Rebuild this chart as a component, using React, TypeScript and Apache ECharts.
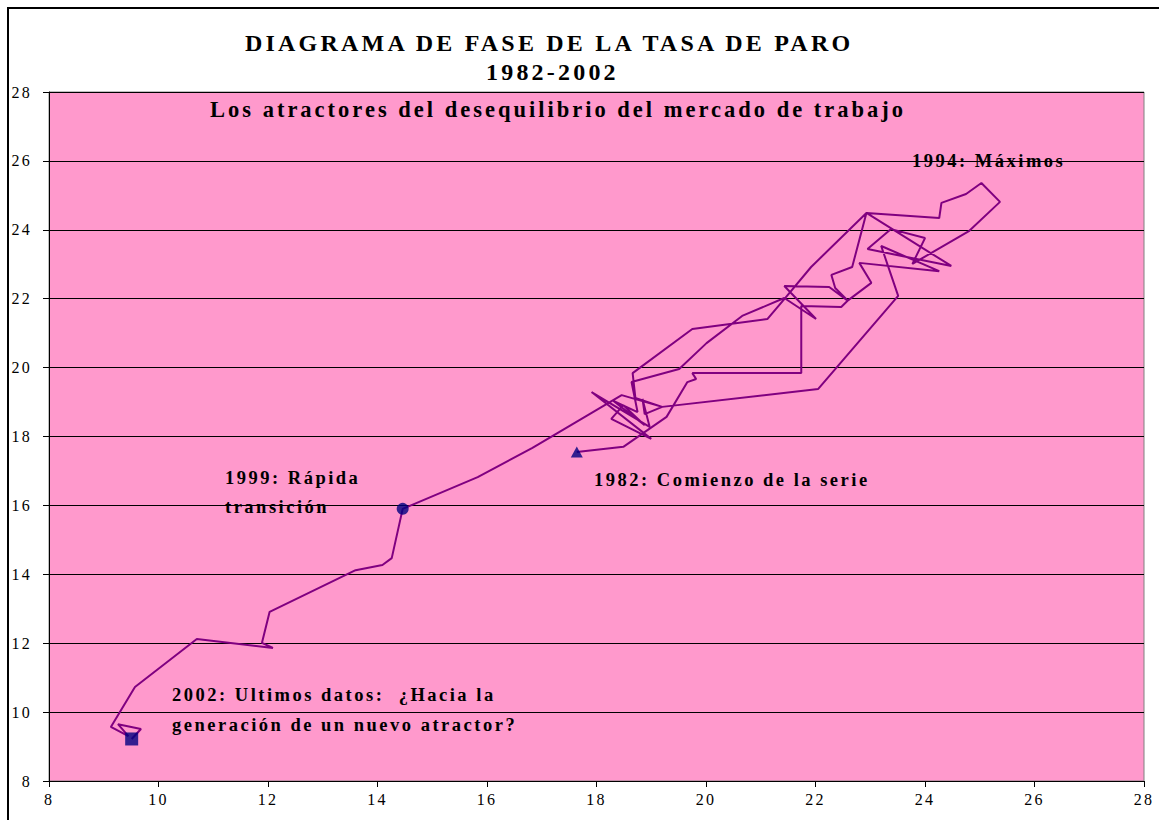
import React, { useEffect, useRef } from "react";
import * as echarts from "echarts";

// ---- Data ----
const xValues = [
  17.64, 18.49, 19.28, 19.66, 19.82, 19.75, 21.74, 21.74, 22.47, 22.6,
  23.02, 22.8, 24.26, 23.2, 23.51, 22.05, 19.2, 18.88, 18.84, 18.97,
  17.91, 19.0, 18.27, 18.49, 18.88, 18.31, 18.75, 18.64, 19.51, 20.01,
  20.66, 21.43, 22.01, 21.43, 22.25, 22.6, 22.36, 22.29, 22.67, 22.93,
  24.26, 24.3, 24.75, 25.03, 25.37, 24.81, 23.77, 24.0, 23.38, 22.95,
  24.48, 22.93, 21.92, 21.43, 21.12, 19.75, 18.66, 18.71, 19.2, 18.46,
  16.83, 15.83, 14.46, 14.26, 14.09, 13.6, 12.03, 11.89, 12.09, 10.7,
  9.57, 9.13, 9.45, 9.26, 9.68, 9.51,
];
const yValues = [
  17.55, 17.7, 18.57, 19.58, 19.67, 19.84, 19.84, 21.79, 21.76, 21.96,
  22.46, 23.04, 22.8, 23.53, 22.08, 19.38, 18.86, 18.65, 19.09, 18.28,
  19.29, 17.93, 18.51, 18.91, 18.33, 19.03, 18.71, 19.58, 19.96, 20.71,
  21.5, 22.02, 21.41, 22.37, 22.34, 21.93, 22.31, 22.69, 22.92, 24.49,
  24.34, 24.78, 25.04, 25.36, 24.81, 23.97, 23.01, 23.76, 24.02, 23.44,
  22.95, 24.49, 22.92, 21.99, 21.41, 21.12, 19.84, 19.12, 18.86, 19.2,
  17.67, 16.82, 15.9, 14.47, 14.27, 14.12, 12.91, 12.01, 11.86, 12.12,
  10.73, 9.57, 9.3, 9.65, 9.51, 9.22,
];
// indices of highlighted points: 1982 start, 1999 transition, 2002 last data
const markerIndices = [0, 62, 75];
const markerSymbols = ["triangle", "circle", "rect"];

const axisMin = 8;
const axisMax = 28;
const axisStep = 2;

const titleLines = ["DIAGRAMA DE FASE DE LA TASA DE PARO", "1982-2002"];
const subtitle = "Los atractores del desequilibrio del mercado de trabajo";
const annotations = [
  "1994: Máximos",
  "1999: Rápida",
  "transición",
  "1982: Comienzo de la serie",
  "2002: Ultimos datos:  ¿Hacia la",
  "generación de un nuevo atractor?",
];

const FONT = "'Liberation Serif', 'Times New Roman', serif";

export default function App() {
  const ref = useRef<HTMLDivElement>(null);

  useEffect(() => {
    const el = ref.current;
    if (!el) return;
    const chart = echarts.init(el, null, { renderer: "svg" });

    const lineData = xValues.map((x, i) => [x, yValues[i]]);
    const markerSeries = markerIndices.map((idx, k) => ({
      type: "scatter",
      data: [[xValues[idx], yValues[idx]]],
      symbol: markerSymbols[k],
      symbolSize: k === 2 ? 13 : k === 0 ? [12, 11] : 12,
      itemStyle: { color: "#000080" },
      z: 5,
      silent: true,
    }));

    const textEl = (text: string, x: number, y: number, size: number) => ({
      type: "text",
      x,
      y,
      z: 100,
      silent: true,
      style: {
        text,
        fontSize: size,
        fontWeight: "bold",
        fontFamily: FONT,
        fill: "#000",
        align: "left",
        verticalAlign: "middle",
      },
    });

    const axisCommon = {
      type: "value",
      min: axisMin,
      max: axisMax,
      interval: axisStep,
      axisLine: { show: true, onZero: false, lineStyle: { color: "#000", width: 1 } },
      axisTick: { show: true, inside: false, length: 6, lineStyle: { color: "#000" } },
    };

    chart.setOption({
      animation: false,
      backgroundColor: "#ffffff",
      grid: {
        left: 49,
        right: 15,
        top: 92,
        bottom: 39,
        show: true,
        backgroundColor: "#FF99CC",
        borderColor: "#808080",
        borderWidth: 1,
      },
      xAxis: {
        ...axisCommon,
        splitLine: { show: false },
        axisLabel: { fontFamily: FONT, fontSize: 16, color: "#000", margin: 10 },
      },
      yAxis: {
        ...axisCommon,
        splitLine: { show: true, lineStyle: { color: "#000", width: 1 } },
        axisLabel: { fontFamily: FONT, fontSize: 16, color: "#000", margin: 17 },
      },
      series: [
        {
          type: "line",
          data: lineData,
          showSymbol: false,
          symbol: "none",
          lineStyle: { color: "#800080", width: 2 },
          z: 3,
          silent: true,
        },
        ...markerSeries,
      ],
      graphic: [
        {
          type: "rect",
          z: 100,
          silent: true,
          shape: { x: 8, y: 8, width: 1200, height: 900 },
          style: { fill: "none", stroke: "#000", lineWidth: 2 },
        },
        textEl(titleLines[0], 245, 43, 24),
        textEl(titleLines[1], 486, 72, 24),
        textEl(subtitle, 210, 109, 22.5),
        textEl(annotations[0], 912, 161, 18.5),
        textEl(annotations[1], 225, 478, 18.5),
        textEl(annotations[2], 225, 507, 18.5),
        textEl(annotations[3], 594, 480, 18.5),
        textEl(annotations[4], 172, 695, 18.5),
        textEl(annotations[5], 172, 725, 18.5),
      ],
    });

    // Excel-style letter spacing on the SVG texts
    const applySpacing = () => {
      const texts = el.querySelectorAll("text");
      texts.forEach((t) => {
        const fs = parseFloat(window.getComputedStyle(t).fontSize) || 12;
        (t as SVGTextElement).style.letterSpacing = (fs * 0.135).toFixed(1) + "px";
        (t as SVGTextElement).style.whiteSpace = "pre";
      });
    };
    chart.on("finished", applySpacing);
    const t1 = setTimeout(applySpacing, 0);
    const t2 = setTimeout(applySpacing, 200);

    return () => {
      clearTimeout(t1);
      clearTimeout(t2);
      chart.dispose();
    };
  }, []);

  return (
    <div
      ref={ref}
      style={{ position: "fixed", left: 0, top: 0, width: 1159, height: 820, background: "#fff" }}
    />
  );
}
